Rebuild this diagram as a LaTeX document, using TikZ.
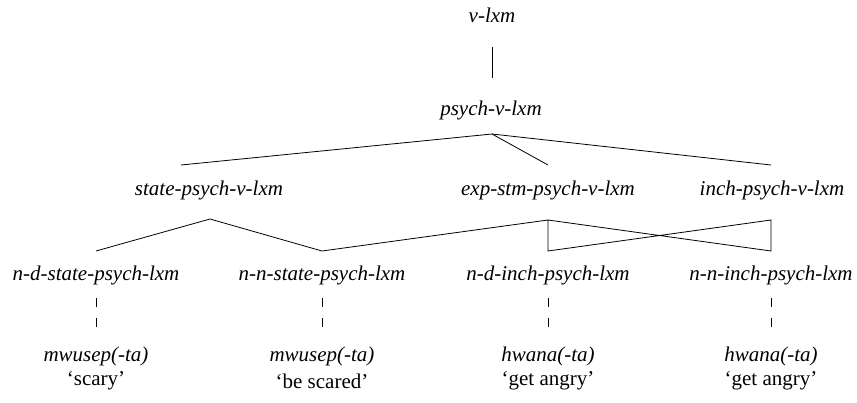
\documentclass[tikz,border=0pt]{standalone}
\usepackage{fontspec}
\setmainfont{Liberation Serif}
\begin{document}
\begin{tikzpicture}[x=1pt,y=-1pt,
  lab/.style={font=\fontsize{21}{24}\selectfont\itshape, inner sep=0pt},
  gl/.style={font=\fontsize{21}{24}\selectfont, inner sep=0pt},
  edge/.style={line width=0.8pt},
]
\useasboundingbox (0,0) rectangle (857,402);
% nodes
\node[lab] (vlxm) at (492,15) {v-lxm};
\node[lab] (psych) at (491,110) {psych-v-lxm};
\node[lab] (state) at (209,190) {state-psych-v-lxm};
\node[lab] (exp) at (548,190) {exp-stm-psych-v-lxm};
\node[lab] (inch) at (772,190) {inch-psych-v-lxm};
\node[lab] (nds) at (96,275) {n-d-state-psych-lxm};
\node[lab] (nns) at (322,275) {n-n-state-psych-lxm};
\node[lab] (ndi) at (548,275) {n-d-inch-psych-lxm};
\node[lab] (nni) at (771,275) {n-n-inch-psych-lxm};
\node[lab] (w1) at (96,356) {mwusep(-ta)};
\node[gl] (g1) at (96,381) {‘scary’};
\node[lab] (w2) at (322,356) {mwusep(-ta)};
\node[gl] (g2) at (322,381) {‘be scared’};
\node[lab] (w3) at (548,356) {hwana(-ta)};
\node[gl] (g3) at (548,381) {‘get angry’};
\node[lab] (w4) at (771,356) {hwana(-ta)};
\node[gl] (g4) at (771,381) {‘get angry’};
% anchor coordinates
\coordinate (vlxmB) at (492,47);
\coordinate (psychT) at (492,78);
\coordinate (psychB) at (492,134);
\coordinate (stateT) at (181,165);
\coordinate (expT) at (548,165);
\coordinate (inchT) at (771,165);
\coordinate (stateB) at (210,219);
\coordinate (expB) at (548,220);
\coordinate (inchB) at (771,220);
\coordinate (ndsT) at (96,251);
\coordinate (nnsT) at (322,251);
\coordinate (ndiT) at (548,251);
\coordinate (nniT) at (771,251);
% edges
\draw[edge] (vlxmB) -- (psychT);
\draw[edge] (stateT) -- (psychB) -- (inchT);
\draw[edge] (psychB) -- (expT);
\draw[edge] (ndsT) -- (stateB) -- (nnsT) -- (expB) -- (ndiT) -- (inchB) -- (nniT) -- (expB);
% dashed links
\foreach \n/\w in {nds/w1,nns/w2,ndi/w3,nni/w4}{
  \draw[line width=0.6pt, dash pattern=on 9pt off 11pt] ([yshift=-23pt]\n.center) -- ([yshift=-52pt]\n.center);
}
\end{tikzpicture}
\end{document}
